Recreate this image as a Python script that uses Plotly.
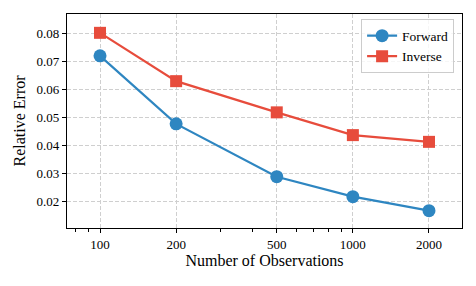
import plotly.graph_objects as go

observations = [100, 200, 500, 1000, 2000]
forward_err = [0.0719, 0.0477, 0.0289, 0.0218, 0.0168]
inverse_err = [0.0801, 0.0629, 0.0518, 0.0437, 0.0413]
x_tick_labels = ["100", "200", "500", "1000", "2000"]
y_ticks = [0.02, 0.03, 0.04, 0.05, 0.06, 0.07, 0.08]
minor_x = [80, 90, 300, 400, 600, 700, 800, 900]

font = "Liberation Serif, Times New Roman, serif"

fig = go.Figure()
fig.add_trace(go.Scatter(x=observations, y=forward_err, mode="lines+markers", name="Forward",
                         line=dict(color="#2E86C1", width=2.2),
                         marker=dict(symbol="circle", size=13, color="#2E86C1")))
fig.add_trace(go.Scatter(x=observations, y=inverse_err, mode="lines+markers", name="Inverse",
                         line=dict(color="#E74C3C", width=2.2),
                         marker=dict(symbol="square", size=12, color="#E74C3C")))

fig.update_layout(
    width=476, height=286,
    margin=dict(l=67, r=14, t=14, b=58),
    paper_bgcolor="white", plot_bgcolor="white",
    font=dict(family=font, size=13, color="black"),
    showlegend=True,
    legend=dict(x=0.98, y=0.975, xanchor="right", yanchor="top",
                bgcolor="rgba(255,255,255,0.8)", bordercolor="#cccccc", borderwidth=1,
                font=dict(size=13.5, family=font), itemwidth=30, tracegroupgap=0),
)
fig.update_xaxes(
    type="log", range=[1.8694, 3.4316], automargin=False,
    tickmode="array", tickvals=observations, ticktext=x_tick_labels,
    ticks="outside", ticklen=4, tickcolor="black",
    showline=True, linecolor="black", linewidth=1.2, mirror=True,
    showgrid=True, gridcolor="#cfcfcf", griddash="4px,2px", gridwidth=1,
    zeroline=False,
    minor=dict(tickmode="array", tickvals=minor_x, ticks="outside", ticklen=2.5,
               tickcolor="black", showgrid=False),
    title=dict(text="Number of Observations", font=dict(size=16, family=font), standoff=4),
    tickfont=dict(size=13, family=font),
)
fig.update_yaxes(
    range=[0.01064, 0.0868], automargin=False,
    tickmode="array", tickvals=y_ticks, ticktext=[f"{v:.2f}" for v in y_ticks],
    ticks="outside", ticklen=4, tickcolor="black",
    showline=True, linecolor="black", linewidth=1.2, mirror=True,
    showgrid=True, gridcolor="#cfcfcf", griddash="4px,2px", gridwidth=1,
    zeroline=False,
    title=dict(text="Relative Error", font=dict(size=16, family=font), standoff=6),
    tickfont=dict(size=13, family=font),
)

fig.write_html("out.html", config={"displayModeBar": False},
               post_script="document.body.style.margin='0';")
